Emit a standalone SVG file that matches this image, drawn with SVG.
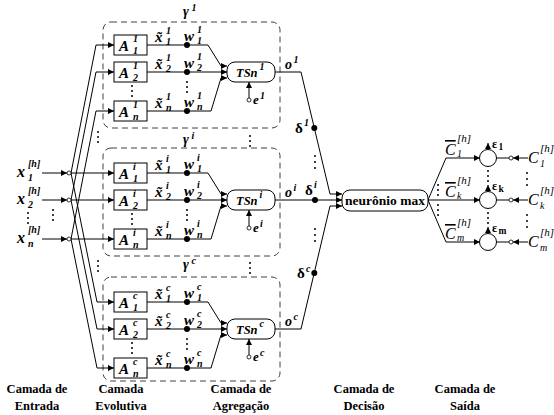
<svg xmlns="http://www.w3.org/2000/svg" width="554" height="415" viewBox="0 0 554 415" font-family="'Liberation Serif', 'DejaVu Serif', serif">
<style>
text{font-family:'Liberation Serif','DejaVu Serif',serif;font-weight:bold;fill:#000}
.m{font-style:italic;font-size:15px}
.s{font-style:italic;font-size:10px}
.t{font-style:italic;font-size:12.5px}
.g{font-style:normal;font-size:15px}
.r{font-style:italic;font-weight:normal;font-size:16px}
.rs{font-style:italic;font-weight:normal;font-size:11px}
.rd{font-style:italic;font-weight:normal;font-size:10px}
.ov{text-decoration:overline}
.eps{font-style:normal;font-size:12px}
.epss{font-style:normal;font-size:9.5px}
.lab{font-size:12.5px;text-anchor:middle}
.nm{font-size:13.5px;text-anchor:middle}
.ln{fill:none;stroke:#000;stroke-width:1}
.ar{marker-end:url(#ah)}
.bx{fill:#fff;stroke:#000;stroke-width:1}
.dash{fill:none;stroke:#404040;stroke-width:1;stroke-dasharray:6 4}
.nd{fill:#fff;stroke:#000;stroke-width:0.8}
.el circle{fill:#000}
</style>
<defs>
<marker id="ah" viewBox="0 0 6 6" refX="6" refY="3" markerWidth="6" markerHeight="6" orient="auto" markerUnits="userSpaceOnUse"><path d="M0,0 L6,3 L0,6 z" fill="#000"/></marker>
</defs>
<rect width="554" height="415" fill="#fff"/>

<g id="clusters">
<rect class="dash" x="103" y="22" width="177" height="106" rx="8"/>
<rect class="dash" x="103" y="148" width="177" height="108" rx="8"/>
<rect class="dash" x="103" y="277" width="177" height="104" rx="8"/>
<text class="m" style="font-size:14px" x="183" y="16">γ<tspan class="s" x="191.5" y="11">1</tspan></text>
<text class="m" style="font-size:14px" x="183" y="144">γ<tspan class="s" x="191.5" y="139">i</tspan></text>
<text class="m" style="font-size:14px" x="183" y="269">γ<tspan class="s" x="191.5" y="264">c</tspan></text>
</g>

<g id="connectors">
<path class="ln ar" d="M42 173 H67"/>
<path class="ln ar" d="M42 200 H67"/>
<path class="ln ar" d="M42 239 H67"/>
<path class="ln ar" d="M71 173 H114"/>
<path class="ln ar" d="M71 173 L96 45 H114"/>
<path class="ln ar" d="M71 173 L97 302 H114"/>
<path class="ln ar" d="M71 200 H114"/>
<path class="ln ar" d="M71 200 L96 72 H114"/>
<path class="ln ar" d="M71 200 L97 329 H114"/>
<path class="ln ar" d="M71 239 H114"/>
<path class="ln ar" d="M71 239 L96 111 H114"/>
<path class="ln ar" d="M71 239 L97 368 H114"/>

<path class="ln ar" d="M147 45 H208 L221 66 H227"/>
<path class="ln ar" d="M147 72 H227"/>
<path class="ln ar" d="M147 111 H211 L221 78 H227"/>
<path class="ln ar" d="M147 173 H208 L221 194 H227"/>
<path class="ln ar" d="M147 200 H227"/>
<path class="ln ar" d="M147 239 H211 L221 206 H227"/>
<path class="ln ar" d="M147 302 H208 L221 323 H227"/>
<path class="ln ar" d="M147 329 H227"/>
<path class="ln ar" d="M147 368 H211 L221 335 H227"/>

<path class="ln ar" d="M249 98 V82"/>
<path class="ln ar" d="M249 226 V210"/>
<path class="ln ar" d="M249 355 V339"/>

<path class="ln ar" d="M275 72 H301 L330 194 H342"/>
<path class="ln ar" d="M275 200 H342"/>
<path class="ln ar" d="M275 329 H301 L330 206 H342"/>

<path class="ln ar" d="M428 200 L446 158 H480"/>
<path class="ln ar" d="M428 200 H480"/>
<path class="ln ar" d="M428 200 L446 242 H480"/>

<path class="ln ar" d="M528 158 H513"/>
<path class="ln ar" d="M528 200 H513"/>
<path class="ln ar" d="M528 242 H513"/>
<path class="ln" d="M509 158 H496.5 M509 200 H496.5 M509 242 H496.5"/>

<path class="ln ar" d="M488 149.5 V143"/>
<path class="ln ar" d="M488 191.5 V185"/>
<path class="ln ar" d="M488 233.5 V227"/>

<circle class="nd" cx="69" cy="173" r="2"/>
<circle class="nd" cx="69" cy="200" r="2"/>
<circle class="nd" cx="69" cy="239" r="2"/>
<circle class="nd" cx="249" cy="100" r="2"/>
<circle class="nd" cx="249" cy="228" r="2"/>
<circle class="nd" cx="249" cy="357" r="2"/>
<circle class="nd" cx="511" cy="158" r="2"/>
<circle class="nd" cx="511" cy="200" r="2"/>
<circle class="nd" cx="511" cy="242" r="2"/>

<circle cx="187" cy="45" r="3"/>
<circle cx="187" cy="72" r="3"/>
<circle cx="187" cy="111" r="3"/>
<circle cx="187" cy="173" r="3"/>
<circle cx="187" cy="200" r="3"/>
<circle cx="187" cy="239" r="3"/>
<circle cx="187" cy="302" r="3"/>
<circle cx="187" cy="329" r="3"/>
<circle cx="187" cy="368" r="3"/>
<circle cx="314.3" cy="128" r="3"/>
<circle cx="315" cy="200" r="3"/>
<circle cx="314.3" cy="273" r="3"/>
</g>

<g class="el" id="ellipses">
<circle cx="28" cy="213" r="1"/><circle cx="28" cy="218" r="1"/><circle cx="28" cy="223" r="1"/>
<circle cx="53" cy="210" r="1"/><circle cx="53" cy="215" r="1"/><circle cx="53" cy="220" r="1"/>
<circle cx="98" cy="132" r="1"/><circle cx="98" cy="137" r="1"/><circle cx="98" cy="142" r="1"/>
<circle cx="98" cy="261" r="1"/><circle cx="98" cy="266" r="1"/><circle cx="98" cy="271" r="1"/>
<circle cx="250" cy="136" r="1"/><circle cx="250" cy="141" r="1"/><circle cx="250" cy="146" r="1"/>
<circle cx="250" cy="263" r="1"/><circle cx="250" cy="268" r="1"/><circle cx="250" cy="273" r="1"/>
<circle cx="132" cy="86" r="1"/><circle cx="132" cy="91" r="1"/><circle cx="132" cy="96" r="1"/>
<circle cx="132" cy="214" r="1"/><circle cx="132" cy="219" r="1"/><circle cx="132" cy="224" r="1"/>
<circle cx="132" cy="343" r="1"/><circle cx="132" cy="348" r="1"/><circle cx="132" cy="353" r="1"/>
<circle cx="187" cy="82" r="1"/><circle cx="187" cy="87" r="1"/><circle cx="187" cy="92" r="1"/>
<circle cx="187" cy="210" r="1"/><circle cx="187" cy="215" r="1"/><circle cx="187" cy="220" r="1"/>
<circle cx="187" cy="339" r="1"/><circle cx="187" cy="344" r="1"/><circle cx="187" cy="349" r="1"/>
<circle cx="315" cy="156" r="1"/><circle cx="315" cy="162" r="1"/><circle cx="315" cy="168" r="1"/>
<circle cx="315" cy="229" r="1"/><circle cx="315" cy="235" r="1"/><circle cx="315" cy="241" r="1"/>
<circle cx="438" cy="185" r="1"/><circle cx="438" cy="190" r="1"/><circle cx="438" cy="195" r="1"/>
<circle cx="438" cy="205" r="1"/><circle cx="438" cy="210" r="1"/><circle cx="438" cy="215" r="1"/>
<circle cx="488" cy="171" r="1"/><circle cx="488" cy="176" r="1"/><circle cx="488" cy="181" r="1"/>
<circle cx="488" cy="213" r="1"/><circle cx="488" cy="218" r="1"/><circle cx="488" cy="223" r="1"/>
<circle cx="527" cy="173" r="1"/><circle cx="527" cy="179" r="1"/><circle cx="527" cy="185" r="1"/>
<circle cx="527" cy="215" r="1"/><circle cx="527" cy="221" r="1"/><circle cx="527" cy="227" r="1"/>
</g>

<g id="input-x1"><text class="m" style="font-size:16px" x="17" y="177">x<tspan class="s" x="28" y="167">[h]</tspan><tspan class="s" x="28" y="181">1</tspan></text></g>
<g id="input-x2"><text class="m" style="font-size:16px" x="17" y="204">x<tspan class="s" x="28" y="194">[h]</tspan><tspan class="s" x="28" y="208">2</tspan></text></g>
<g id="input-xn"><text class="m" style="font-size:16px" x="17" y="243">x<tspan class="s" x="28" y="233">[h]</tspan><tspan class="s" x="28" y="247">n</tspan></text></g>

<g id="A11"><rect class="bx" x="114" y="35" width="33" height="20"/><text class="m" x="119" y="51">A<tspan class="s" x="133" y="41.5">1</tspan><tspan class="s" x="133" y="54">1</tspan></text></g>
<g id="A21"><rect class="bx" x="114" y="62" width="33" height="20"/><text class="m" x="119" y="78">A<tspan class="s" x="133" y="68.5">1</tspan><tspan class="s" x="133" y="81">2</tspan></text></g>
<g id="An1"><rect class="bx" x="114" y="101" width="33" height="20"/><text class="m" x="119" y="117">A<tspan class="s" x="133" y="107.5">1</tspan><tspan class="s" x="133" y="120">n</tspan></text></g>
<g id="A1i"><rect class="bx" x="114" y="163" width="33" height="20"/><text class="m" x="119" y="179">A<tspan class="s" x="133" y="169.5">i</tspan><tspan class="s" x="133" y="182">1</tspan></text></g>
<g id="A2i"><rect class="bx" x="114" y="190" width="33" height="20"/><text class="m" x="119" y="206">A<tspan class="s" x="133" y="196.5">i</tspan><tspan class="s" x="133" y="209">2</tspan></text></g>
<g id="Ani"><rect class="bx" x="114" y="229" width="33" height="20"/><text class="m" x="119" y="245">A<tspan class="s" x="133" y="235.5">i</tspan><tspan class="s" x="133" y="248">n</tspan></text></g>
<g id="A1c"><rect class="bx" x="114" y="292" width="33" height="20"/><text class="m" x="119" y="308">A<tspan class="s" x="133" y="298.5">c</tspan><tspan class="s" x="133" y="311">1</tspan></text></g>
<g id="A2c"><rect class="bx" x="114" y="319" width="33" height="20"/><text class="m" x="119" y="335">A<tspan class="s" x="133" y="325.5">c</tspan><tspan class="s" x="133" y="338">2</tspan></text></g>
<g id="Anc"><rect class="bx" x="114" y="358" width="33" height="20"/><text class="m" x="119" y="374">A<tspan class="s" x="133" y="364.5">c</tspan><tspan class="s" x="133" y="377">n</tspan></text></g>

<g id="labels-x-w">
<text class="m" x="155" y="41.5">x&#x303;<tspan class="s" x="166" y="34">1</tspan><tspan class="s" x="166" y="45">1</tspan></text>
<text class="m" x="155" y="68.5">x&#x303;<tspan class="s" x="166" y="61">1</tspan><tspan class="s" x="166" y="72">2</tspan></text>
<text class="m" x="155" y="107.5">x&#x303;<tspan class="s" x="166" y="100">1</tspan><tspan class="s" x="166" y="111">n</tspan></text>
<text class="m" x="155" y="169.5">x&#x303;<tspan class="s" x="166" y="162">i</tspan><tspan class="s" x="166" y="173">1</tspan></text>
<text class="m" x="155" y="196.5">x&#x303;<tspan class="s" x="166" y="189">i</tspan><tspan class="s" x="166" y="200">2</tspan></text>
<text class="m" x="155" y="235.5">x&#x303;<tspan class="s" x="166" y="228">i</tspan><tspan class="s" x="166" y="239">n</tspan></text>
<text class="m" x="155" y="298.5">x&#x303;<tspan class="s" x="166" y="291">c</tspan><tspan class="s" x="166" y="302">1</tspan></text>
<text class="m" x="155" y="325.5">x&#x303;<tspan class="s" x="166" y="318">c</tspan><tspan class="s" x="166" y="329">2</tspan></text>
<text class="m" x="155" y="364.5">x&#x303;<tspan class="s" x="166" y="357">c</tspan><tspan class="s" x="166" y="368">n</tspan></text>

<text class="m" x="184" y="41">w<tspan class="s" x="197" y="33">1</tspan><tspan class="s" x="197" y="44">1</tspan></text>
<text class="m" x="184" y="68">w<tspan class="s" x="197" y="60">1</tspan><tspan class="s" x="197" y="71">2</tspan></text>
<text class="m" x="184" y="107">w<tspan class="s" x="197" y="99">1</tspan><tspan class="s" x="197" y="110">n</tspan></text>
<text class="m" x="184" y="169">w<tspan class="s" x="197" y="161">i</tspan><tspan class="s" x="197" y="172">1</tspan></text>
<text class="m" x="184" y="196">w<tspan class="s" x="197" y="188">i</tspan><tspan class="s" x="197" y="199">2</tspan></text>
<text class="m" x="184" y="235">w<tspan class="s" x="197" y="227">i</tspan><tspan class="s" x="197" y="238">n</tspan></text>
<text class="m" x="184" y="298">w<tspan class="s" x="197" y="290">c</tspan><tspan class="s" x="197" y="301">1</tspan></text>
<text class="m" x="184" y="325">w<tspan class="s" x="197" y="317">c</tspan><tspan class="s" x="197" y="328">2</tspan></text>
<text class="m" x="184" y="364">w<tspan class="s" x="197" y="356">c</tspan><tspan class="s" x="197" y="367">n</tspan></text>
</g>

<g id="TSn1"><rect class="bx" x="227" y="62" width="48" height="20" rx="8"/><text class="t" x="236" y="77">TSn<tspan class="s" x="259.5" y="70">1</tspan></text></g>
<g id="TSni"><rect class="bx" x="227" y="190" width="48" height="20" rx="8"/><text class="t" x="236" y="205">TSn<tspan class="s" x="259.5" y="198">i</tspan></text></g>
<g id="TSnc"><rect class="bx" x="227" y="319" width="48" height="20" rx="8"/><text class="t" x="236" y="334">TSn<tspan class="s" x="259.5" y="327">c</tspan></text></g>

<g id="labels-e-o-delta">
<text class="t" style="font-size:13px" x="253" y="104">e<tspan class="s" x="260" y="99">1</tspan></text>
<text class="t" style="font-size:13px" x="253" y="232">e<tspan class="s" x="260" y="227">i</tspan></text>
<text class="t" style="font-size:13px" x="253" y="361">e<tspan class="s" x="260" y="356">c</tspan></text>
<text class="m" style="font-size:14px" x="285" y="69">o<tspan class="s" x="293.5" y="63">1</tspan></text>
<text class="m" style="font-size:14px" x="285" y="197">o<tspan class="s" x="293.5" y="191">i</tspan></text>
<text class="m" style="font-size:14px" x="285" y="326">o<tspan class="s" x="293.5" y="320">c</tspan></text>
<text class="g" x="295" y="133">δ<tspan class="s" x="304" y="126">1</tspan></text>
<text class="g" x="305" y="195">δ<tspan class="s" x="314" y="188">i</tspan></text>
<text class="g" x="297" y="278">δ<tspan class="s" x="306" y="272">c</tspan></text>
</g>

<g id="neuronio-max"><rect class="bx" x="342" y="190" width="86" height="21" rx="8"/><text class="nm" x="385" y="205">neurônio max</text></g>

<g id="out1"><circle class="bx" cx="488" cy="158" r="8.5"/></g>
<g id="outk"><circle class="bx" cx="488" cy="200" r="8.5"/></g>
<g id="outm"><circle class="bx" cx="488" cy="242" r="8.5"/></g>

<g id="labels-out">
<text class="r" x="445" y="155"><tspan class="ov">C</tspan><tspan class="rs" x="457" y="142">[h]</tspan><tspan class="rd" x="457" y="157">1</tspan></text>
<text class="r" x="445" y="197"><tspan class="ov">C</tspan><tspan class="rs" x="457" y="184">[h]</tspan><tspan class="rd" x="457" y="199">k</tspan></text>
<text class="r" x="445" y="239"><tspan class="ov">C</tspan><tspan class="rs" x="457" y="226">[h]</tspan><tspan class="rd" x="457" y="241">m</tspan></text>
<text class="r" x="528" y="163">C<tspan class="rs" x="540" y="152">[h]</tspan><tspan class="rd" x="540" y="167">1</tspan></text>
<text class="r" x="528" y="205">C<tspan class="rs" x="540" y="194">[h]</tspan><tspan class="rd" x="540" y="209">k</tspan></text>
<text class="r" x="528" y="247">C<tspan class="rs" x="540" y="236">[h]</tspan><tspan class="rd" x="540" y="251">m</tspan></text>
<text class="eps" x="492" y="148">ε<tspan class="epss" x="498.5" y="150">1</tspan></text>
<text class="eps" x="492" y="190">ε<tspan class="epss" x="498.5" y="192">k</tspan></text>
<text class="eps" x="492" y="232">ε<tspan class="epss" x="498.5" y="234">m</tspan></text>
</g>

<g id="layer-labels">
<text class="lab" x="37" y="393">Camada de</text><text class="lab" x="37" y="410">Entrada</text>
<text class="lab" x="121" y="393">Camada</text><text class="lab" x="121" y="410">Evolutiva</text>
<text class="lab" x="241" y="393">Camada de</text><text class="lab" x="241" y="410">Agregação</text>
<text class="lab" x="364" y="393">Camada de</text><text class="lab" x="364" y="410">Decisão</text>
<text class="lab" x="465" y="393">Camada de</text><text class="lab" x="465" y="410">Saída</text>
</g>
</svg>
